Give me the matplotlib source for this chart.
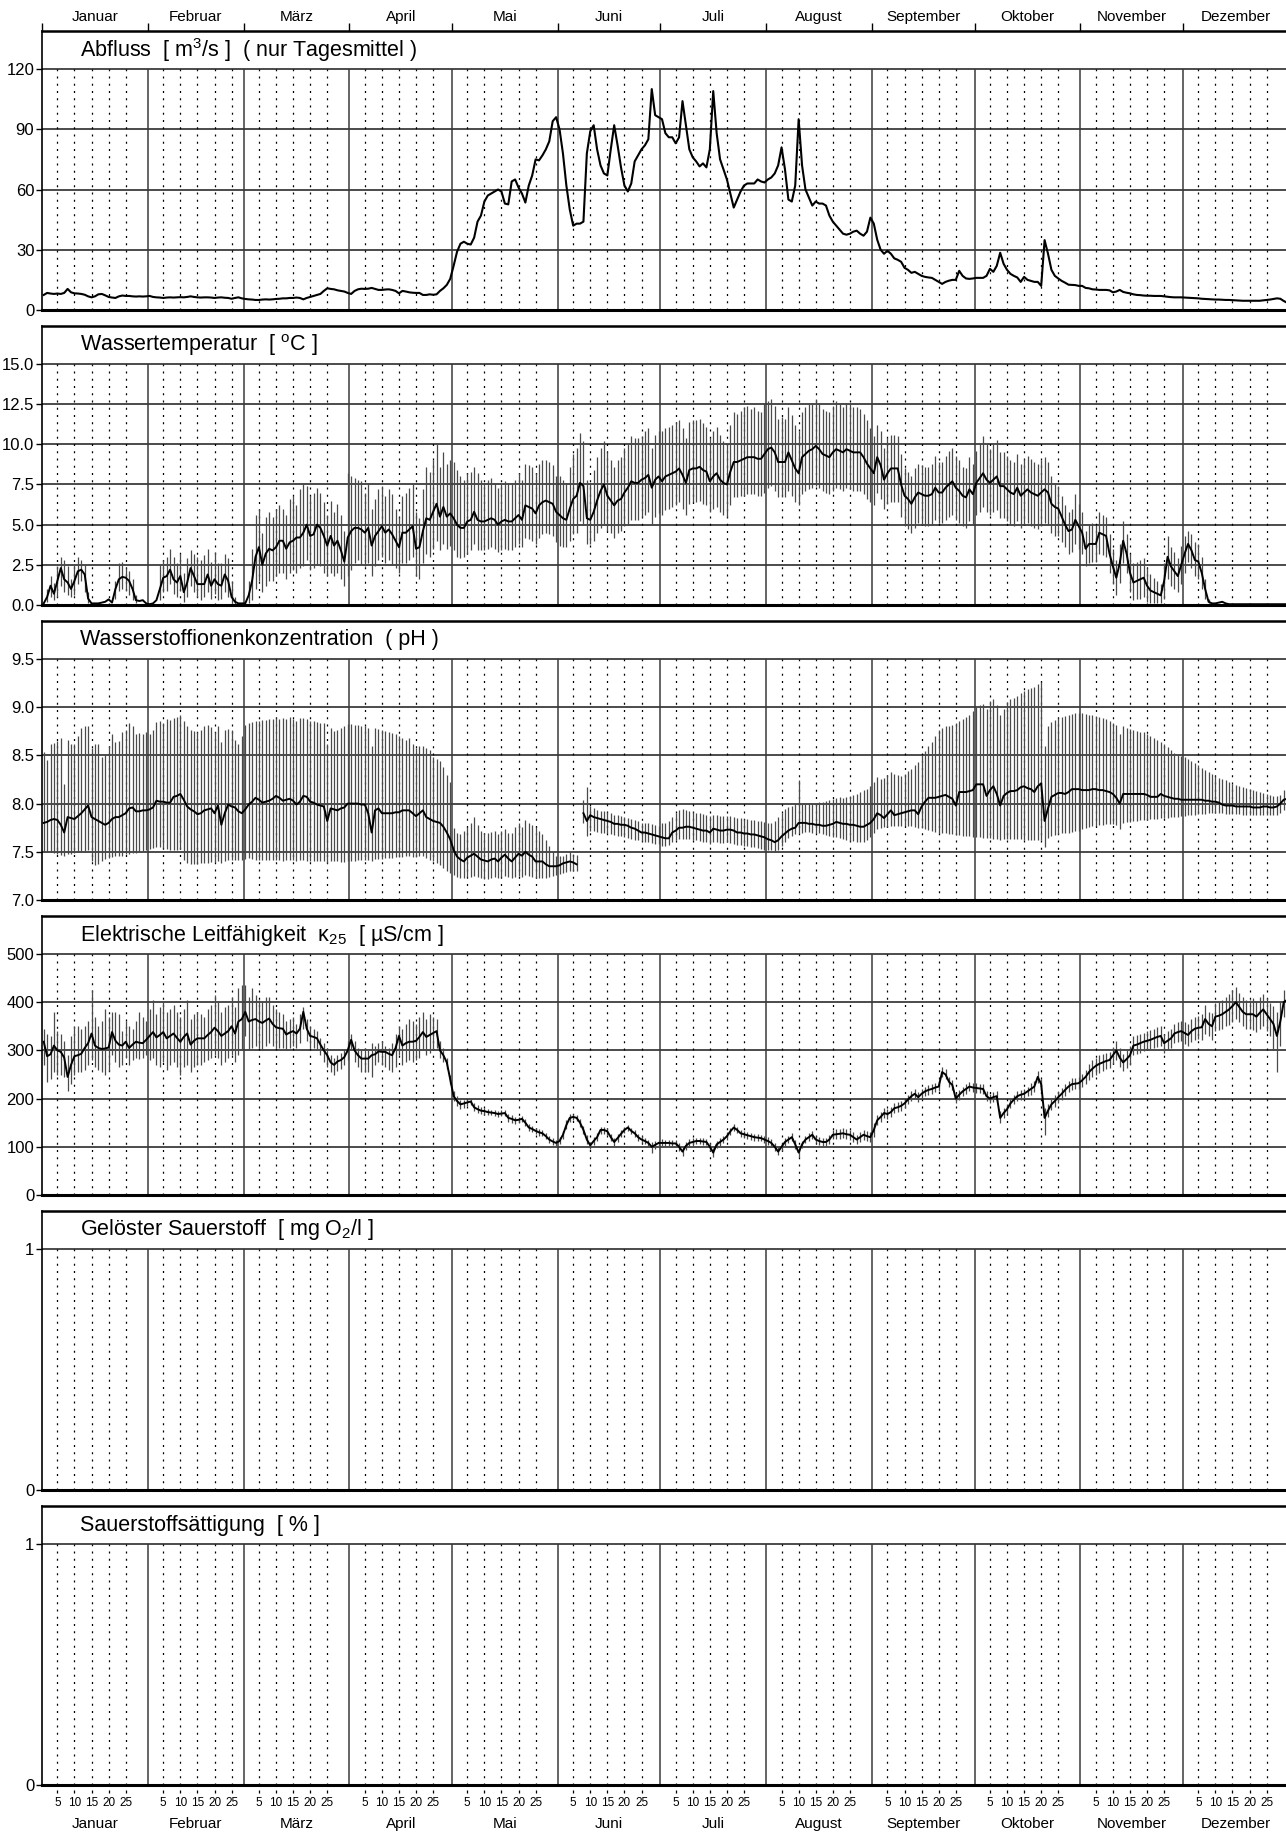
import numpy as np
import matplotlib
matplotlib.use('Agg')
import matplotlib.pyplot as plt
from matplotlib import transforms

nan = float('nan')

# ---------------- data ----------------
month_names = ['Januar', 'Februar', 'März', 'April', 'Mai', 'Juni', 'Juli',
               'August', 'September', 'Oktober', 'November', 'Dezember']
month_days = [31, 28, 31, 30, 31, 30, 31, 31, 30, 31, 30, 31]
day_ticks = [5, 10, 15, 20, 25]

# Abfluss, daily mean [m3/s]
abfluss = [
    7.5, 8.5, 8.2, 8.0, 8.2, 8.0, 8.5, 10.5, 8.8, 8.3, 8.2, 8.0, 7.6, 6.8, 6.3, 6.8, 7.8, 8.0, 7.3, 6.5, 6.2, 6.0, 6.8, 7.2, 7.0, 7.0, 6.8, 6.7, 6.8, 6.7, 6.8,
    7.0, 6.5, 6.3, 6.2, 6.0, 6.2, 6.3, 6.2, 6.3, 6.4, 6.3, 6.5, 6.8, 6.5, 6.3, 6.2, 6.3, 6.3, 6.2, 6.0, 6.2, 6.3, 6.1, 6.0, 5.6, 6.0, 6.3, 5.8,
    5.5, 5.3, 5.2, 5.0, 5.0, 5.2, 5.3, 5.2, 5.3, 5.5, 5.6, 5.8, 5.8, 6.0, 6.0, 6.2, 6.0, 5.3, 6.0, 6.5, 7.0, 7.5, 8.0, 9.5, 10.8, 10.5, 10.3, 9.8, 9.5, 9.2, 8.5,
    8.0, 9.5, 10.3, 10.6, 10.5, 10.6, 11.0, 10.5, 10.0, 10.0, 10.2, 10.3, 10.0, 9.5, 8.3, 9.5, 9.2, 8.8, 8.6, 8.5, 8.5, 7.5, 7.5, 7.8, 7.6, 7.8, 9.5, 10.8, 12.5, 15.5,
    22, 29, 33, 34, 33, 32.6, 36, 44, 47, 54, 57, 58, 59, 60, 59, 53, 52.6, 64, 65, 61, 58, 53.5, 62, 67, 75, 74.5, 77, 80, 84, 94, 96,
    90, 78, 62, 50, 42, 43, 43, 44, 78, 89, 92, 80, 72, 68, 67, 80, 92, 82, 71, 62, 59, 63, 74, 77, 80, 82, 85, 110, 97, 96,
    95, 88, 86, 86, 83, 86, 104, 92, 80, 76, 74, 71.5, 73, 71, 80, 109, 88, 75, 70, 65, 58, 51, 55, 59, 62, 63, 63, 63, 65, 64, 63.5,
    65, 66, 68, 72, 81, 70, 55, 54, 62, 95, 72, 60, 56, 52, 54, 53, 53, 52, 47, 44, 42, 40, 38, 37.5, 38, 39, 39.5, 38, 37, 39, 46,
    43, 35, 30, 28, 29.5, 28, 25.7, 25, 24, 21, 20, 18.5, 19, 18, 17, 16.5, 16.2, 16, 15, 14, 13, 14, 14.6, 15, 15, 19.5, 17, 15.7, 15.5, 15.7,
    16, 16, 16, 17, 20.5, 19, 22, 28.5, 23, 20, 18, 17, 16.2, 14, 16.5, 15, 14.5, 14, 14, 12, 34.8, 28, 20, 17, 15.7, 14.5, 13.6, 12.6, 12.5, 12.4, 12,
    12, 11, 10.8, 10.3, 10.2, 10, 10, 10, 9.8, 8.8, 9.2, 10, 9, 8.6, 8.3, 7.8, 7.5, 7.4, 7.2, 7.1, 7.1, 7.0, 7.0, 7.0, 6.8, 6.6, 6.4, 6.3, 6.3, 6.3,
    6.2, 6.1, 6.0, 5.9, 5.8, 5.6, 5.5, 5.4, 5.3, 5.2, 5.2, 5.1, 5.0, 5.0, 4.9, 4.8, 4.7, 4.6, 4.6, 4.6, 4.6, 4.6, 4.6, 4.8, 5.0, 5.2, 5.5, 5.8, 5.6, 4.5, 3.6,
]

# Wassertemperatur [degC]: daily mean, min, max
temp_mean = [
    0.1, 0.5, 1.2, 0.7, 1.5, 2.3, 1.6, 1.4, 1.0, 1.5, 2.1, 2.2, 1.9, 0.4, 0.1, 0.1, 0.1, 0.15, 0.2, 0.35, 0.15, 1.0, 1.6, 1.75, 1.7, 1.5, 1.0, 0.3, 0.25, 0.3, 0.1,
    0.05, 0.1, 0.3, 1.0, 1.7, 1.8, 2.2, 1.6, 1.4, 1.8, 0.8, 1.4, 2.3, 1.8, 1.3, 1.3, 1.3, 1.9, 1.2, 1.6, 1.3, 1.2, 1.9, 1.5, 0.5, 0.2, 0.1, 0.1,
    0.1, 0.6, 1.5, 3.0, 3.6, 2.5, 3.2, 3.5, 3.4, 3.6, 4.0, 4.0, 3.5, 3.9, 4.0, 4.2, 4.2, 4.5, 5.0, 4.3, 4.4, 5.0, 4.8, 4.3, 3.7, 4.3, 3.7, 4.0, 3.4, 2.7, 4.2,
    4.6, 4.8, 4.8, 4.7, 4.5, 4.8, 3.7, 4.3, 4.6, 4.9, 4.5, 4.7, 4.4, 4.0, 3.6, 4.5, 4.5, 4.7, 4.9, 3.5, 3.6, 4.6, 5.4, 5.3, 5.8, 6.3, 5.5, 6.1, 5.5, 5.7,
    5.4, 5.0, 4.8, 4.8, 5.2, 5.3, 5.8, 5.3, 5.2, 5.2, 5.3, 5.4, 5.3, 5.0, 5.2, 5.3, 5.2, 5.2, 5.4, 5.6, 5.3, 6.2, 6.1, 6.0, 5.7, 6.2, 6.4, 6.5, 6.4, 6.3, 5.8,
    5.6, 5.4, 5.3, 6.0, 6.6, 6.8, 7.6, 7.4, 5.4, 5.3, 5.8, 6.5, 7.1, 7.5, 6.8, 6.5, 6.2, 6.5, 6.6, 7.0, 7.3, 7.7, 7.6, 7.6, 7.8, 7.9, 8.1, 7.3, 7.8, 8.0,
    7.7, 8.0, 8.1, 8.2, 8.3, 8.5, 8.1, 7.6, 8.4, 8.5, 8.5, 8.6, 8.4, 8.3, 7.7, 8.0, 8.2, 7.8, 7.6, 7.5, 8.3, 8.9, 8.9, 9.0, 9.1, 9.2, 9.2, 9.2, 9.1, 9.1, 9.4,
    9.7, 9.8, 9.5, 8.9, 8.9, 8.9, 9.5, 9.0, 8.5, 8.2, 9.2, 9.4, 9.6, 9.7, 9.9, 9.7, 9.4, 9.3, 9.2, 9.5, 9.7, 9.6, 9.5, 9.7, 9.6, 9.5, 9.5, 9.5, 9.2, 8.8, 8.5,
    8.2, 9.2, 8.7, 7.8, 8.2, 8.5, 8.5, 8.5, 7.5, 6.8, 6.6, 6.3, 6.7, 7.0, 6.9, 6.8, 6.8, 6.9, 7.3, 7.0, 7.0, 7.3, 7.5, 7.7, 7.3, 7.1, 6.8, 6.7, 7.2, 6.9,
    7.6, 7.9, 8.2, 7.8, 7.6, 7.8, 8.0, 7.4, 7.4, 7.2, 7.0, 6.9, 7.3, 6.8, 7.0, 7.2, 7.0, 6.9, 6.8, 7.0, 7.2, 7.0, 6.3, 6.1, 6.0, 5.5, 5.0, 4.6, 4.7, 5.3, 4.9,
    4.5, 3.5, 3.8, 3.8, 3.8, 4.5, 4.4, 4.3, 3.2, 2.4, 1.7, 2.6, 4.0, 3.2, 2.0, 1.4, 1.5, 1.6, 1.7, 1.2, 0.9, 0.8, 0.7, 0.6, 1.5, 3.0, 2.4, 2.1, 1.8, 2.5,
    3.2, 3.8, 3.4, 2.8, 2.7, 2.0, 1.0, 0.2, 0.1, 0.1, 0.15, 0.2, 0.1, 0.05, 0.05, 0.05, 0.05, 0.05, 0.05, 0.05, 0.05, 0.05, 0.05, 0.05, 0.05, 0.05, 0.05, 0.05, 0.05, 0.05, 0.05,
]
temp_min = [
    nan, 0.2, 0.5, 0.3, 0.5, 1.2, 0.8, 0.6, 0.5, 0.6, 1.3, 1.5, 0.8, 0.1, nan, nan, nan, nan, nan, nan, nan, 0.4, 0.9, 1.0, 0.9, 0.6, 0.3, 0.1, nan, nan, nan,
    nan, nan, nan, 0.3, 0.8, 0.9, 1.3, 0.7, 0.5, 0.9, 0.2, 0.5, 1.2, 0.8, 0.5, 0.3, 0.5, 0.8, 0.4, 0.7, 0.3, 0.4, 0.8, 0.5, 0.1, 0.05, nan, nan,
    nan, 0.1, 0.3, 1.0, 1.5, 0.8, 1.2, 1.5, 1.5, 1.8, 2.0, 2.0, 1.6, 2.0, 2.2, 2.0, 2.3, 2.4, 2.8, 2.2, 2.3, 2.5, 2.4, 2.0, 1.8, 2.0, 1.8, 2.0, 1.6, 1.2, 1.8,
    2.2, 2.6, 2.8, 2.5, 2.4, 2.6, 1.8, 2.4, 2.8, 3.0, 2.6, 2.8, 2.5, 2.3, 2.0, 2.6, 2.6, 2.8, 3.0, 1.8, 1.6, 2.6, 3.2, 3.0, 3.5, 4.0, 3.4, 3.8, 3.5, 3.7,
    3.4, 3.0, 2.9, 3.0, 3.2, 3.4, 3.8, 3.4, 3.4, 3.4, 3.5, 3.6, 3.5, 3.3, 3.4, 3.5, 3.4, 3.4, 3.6, 3.8, 3.6, 4.2, 4.1, 4.0, 3.8, 4.2, 4.4, 4.5, 4.4, 4.3, 3.9,
    3.7, 3.6, 3.6, 4.0, 4.4, 4.5, 5.2, 5.0, 3.8, 3.8, 4.0, 4.5, 4.8, 5.0, 4.6, 4.5, 4.2, 4.5, 4.6, 4.9, 5.0, 5.3, 5.3, 5.3, 5.5, 5.6, 5.8, 5.0, 5.5, 5.7,
    5.6, 5.9, 6.0, 6.1, 6.2, 6.4, 6.0, 5.6, 6.3, 6.4, 6.4, 6.5, 6.3, 6.2, 5.8, 6.0, 6.1, 5.8, 5.6, 5.5, 6.2, 6.7, 6.7, 6.8, 6.8, 6.9, 6.9, 6.9, 6.8, 6.8, 7.0,
    7.3, 7.4, 7.1, 6.7, 6.7, 6.7, 7.1, 6.8, 6.4, 6.2, 6.9, 7.1, 7.2, 7.3, 7.4, 7.3, 7.1, 7.0, 6.9, 7.1, 7.3, 7.2, 7.1, 7.3, 7.2, 7.1, 7.1, 7.1, 6.9, 6.6, 6.4,
    6.2, 7.0, 6.6, 6.0, 6.3, 6.4, 6.4, 6.4, 5.5, 4.9, 4.7, 4.5, 4.8, 5.1, 5.0, 4.9, 4.9, 5.0, 5.3, 5.1, 5.1, 5.3, 5.5, 5.6, 5.3, 5.1, 4.9, 4.8, 5.2, 5.0,
    5.6, 5.8, 6.1, 5.8, 5.6, 5.8, 5.9, 5.4, 5.4, 5.2, 5.0, 4.9, 5.2, 4.8, 5.0, 5.1, 4.9, 4.8, 4.7, 4.9, 5.1, 5.0, 4.5, 4.3, 4.3, 3.9, 3.6, 3.2, 3.3, 3.8, 3.5,
    3.2, 2.4, 2.6, 2.7, 2.7, 3.2, 3.1, 3.0, 2.0, 1.3, 0.6, 1.4, 2.6, 2.0, 0.8, 0.3, 0.4, 0.4, 0.5, 0.2, 0.1, 0.1, 0.1, 0.1, 0.4, 1.6, 1.2, 1.0, 0.8, 1.3,
    2.0, 2.7, 2.3, 1.8, 1.6, 1.0, 0.4, 0.1,
] + [nan] * 23
temp_max = [
    nan, 1.0, 1.8, 1.4, 2.4, 3.0, 2.8, 2.4, 1.6, 2.5, 3.0, 2.8, 2.5, 0.8, nan, nan, nan, nan, nan, nan, nan, 1.5, 2.6, 2.7, 2.3, 2.1, 1.6, 0.6, nan, nan, nan,
    nan, nan, nan, 2.5, 2.8, 3.0, 3.5, 3.0, 2.6, 3.2, 2.0, 2.9, 3.4, 3.2, 3.0, 2.8, 3.1, 3.5, 2.7, 3.3, 2.6, 2.6, 3.2, 2.9, 1.5, 0.5, nan, nan,
    nan, 1.5, 3.5, 5.6, 6.0, 4.5, 5.5, 5.8, 5.5, 6.0, 6.2, 6.0, 5.6, 6.6, 6.8, 6.2, 7.2, 7.5, 7.4, 6.8, 7.0, 7.3, 7.0, 6.4, 5.6, 6.5, 5.8, 6.3, 5.6, 4.6, 8.2,
    8.0, 7.9, 7.8, 7.7, 7.0, 7.6, 6.0, 6.6, 7.2, 7.4, 6.8, 7.2, 6.9, 6.0, 5.5, 6.8, 7.0, 7.3, 7.6, 5.8, 5.4, 7.2, 8.6, 8.3, 9.0, 10.1, 8.6, 9.5, 8.8, 9.0,
    8.9, 8.4, 8.0, 7.8, 8.2, 8.3, 8.6, 8.2, 7.8, 7.6, 7.8, 7.9, 7.6, 7.3, 7.5, 7.7, 7.6, 7.6, 7.8, 8.2, 7.8, 8.8, 8.7, 8.6, 8.2, 8.8, 9.0, 9.0, 8.9, 8.7, 8.0,
    8.0, 7.8, 7.6, 8.6, 9.4, 9.8, 10.7, 10.2, 7.8, 7.6, 8.4, 9.2, 9.8, 10.2, 9.5, 9.0, 8.6, 9.0, 9.2, 9.8, 10.1, 10.5, 10.4, 10.4, 10.5, 10.8, 11.0, 9.8, 10.6, 10.8,
    10.8, 11.0, 11.1, 11.2, 11.4, 11.5, 11.0, 10.4, 11.4, 11.5, 11.5, 11.6, 11.3, 11.1, 10.4, 10.8, 11.1, 10.6, 10.2, 10.1, 11.2, 12.0, 11.9, 12.1, 12.3, 12.4, 12.2, 12.3, 12.1, 12.0, 12.5,
    12.7, 12.8, 12.4, 11.6, 11.7, 11.6, 12.3, 11.8, 11.2, 10.8, 12.0, 12.3, 12.5, 12.6, 12.8, 12.6, 12.2, 12.1, 12.0, 12.4, 12.7, 12.5, 12.3, 12.6, 12.5, 12.3, 12.3, 12.2, 11.9, 11.5, 11.0,
    10.5, 11.2, 10.8, 9.8, 10.4, 10.6, 10.6, 10.5, 9.4, 8.5, 8.3, 8.0, 8.5, 8.8, 8.7, 8.6, 8.6, 8.8, 9.3, 8.9, 8.9, 9.3, 9.6, 9.8, 9.3, 9.0, 8.6, 8.5, 9.2, 8.8,
    9.6, 10.0, 10.5, 10.0, 9.7, 10.0, 10.3, 9.5, 9.5, 9.3, 9.0, 8.9, 9.4, 8.8, 9.1, 9.3, 9.1, 8.9, 8.8, 9.0, 9.2, 8.9, 8.0, 7.6, 7.4, 6.8, 6.2, 5.8, 6.0, 6.9, 6.3,
    5.8, 4.6, 5.0, 5.1, 5.0, 5.8, 5.6, 5.5, 4.4, 3.5, 2.8, 3.8, 5.2, 4.4, 3.2, 2.6, 2.7, 2.8, 2.9, 2.3, 1.9, 1.7, 1.5, 1.3, 2.6, 4.3, 3.6, 3.3, 2.9, 3.7,
    4.3, 4.6, 4.4, 3.9, 3.8, 3.0, 1.6, 0.4,
] + [nan] * 23

# Wasserstoffionenkonzentration (pH): daily mean, min, max
ph_mean = [
    7.80, 7.81, 7.83, 7.84, 7.83, 7.78, 7.70, 7.86, 7.85, 7.84, 7.87, 7.90, 7.94, 7.98, 7.86, 7.84, 7.82, 7.80, 7.78, 7.80, 7.84, 7.86, 7.86, 7.88, 7.90, 7.95, 7.96, 7.92, 7.92, 7.93, 7.93,
    7.94, 7.96, 8.03, 8.02, 8.02, 8.01, 8.01, 8.07, 8.08, 8.10, 8.04, 7.97, 7.94, 7.92, 7.89, 7.90, 7.93, 7.94, 7.95, 7.90, 7.98, 7.78, 7.90, 7.99, 7.97, 7.96, 7.92, 7.90,
    7.94, 7.99, 8.02, 8.06, 8.04, 8.01, 8.02, 8.03, 8.05, 8.08, 8.06, 8.03, 8.04, 8.05, 8.03, 7.99, 8.02, 8.08, 8.07, 8.02, 8.01, 7.99, 7.98, 7.97, 7.82, 7.95, 7.94, 7.93, 7.95, 7.96, 8.00,
    8.00, 8.00, 8.00, 7.99, 7.99, 7.90, 7.70, 7.93, 7.95, 7.90, 7.90, 7.90, 7.90, 7.91, 7.91, 7.93, 7.93, 7.93, 7.90, 7.87, 7.90, 7.93, 7.86, 7.84, 7.82, 7.81, 7.80, 7.76, 7.70, 7.63,
    7.52, 7.45, 7.42, 7.40, 7.44, 7.46, 7.48, 7.45, 7.42, 7.41, 7.40, 7.42, 7.43, 7.40, 7.44, 7.47, 7.43, 7.40, 7.44, 7.48, 7.46, 7.50, 7.47, 7.45, 7.40, 7.40, 7.40, 7.37, 7.35, 7.35, 7.35,
    7.36, 7.38, 7.39, 7.40, 7.39, 7.37, nan, 7.90, 7.82, 7.88, 7.86, 7.85, 7.84, 7.83, 7.82, 7.81, 7.79, 7.79, 7.78, 7.78, 7.77, 7.75, 7.74, 7.72, 7.70, 7.70, 7.69, 7.68, 7.67, 7.66,
    7.65, 7.64, 7.64, 7.70, 7.72, 7.75, 7.75, 7.76, 7.76, 7.75, 7.74, 7.73, 7.72, 7.72, 7.70, 7.74, 7.73, 7.72, 7.72, 7.73, 7.73, 7.72, 7.70, 7.70, 7.69, 7.69, 7.68, 7.68, 7.67, 7.66, 7.65,
    7.63, 7.62, 7.60, 7.62, 7.66, 7.69, 7.72, 7.74, 7.75, 7.80, 7.80, 7.80, 7.79, 7.79, 7.78, 7.78, 7.77, 7.77, 7.78, 7.79, 7.81, 7.80, 7.79, 7.79, 7.78, 7.78, 7.77, 7.76, 7.76, 7.78, 7.80,
    7.84, 7.90, 7.88, 7.85, 7.89, 7.93, 7.88, 7.89, 7.90, 7.91, 7.92, 7.93, 7.93, 7.89, 7.97, 8.02, 8.06, 8.06, 8.06, 8.07, 8.08, 8.09, 8.07, 8.05, 7.98, 8.12, 8.12, 8.12, 8.13, 8.14,
    8.20, 8.20, 8.20, 8.08, 8.14, 8.18, 8.10, 7.98, 8.08, 8.11, 8.13, 8.13, 8.14, 8.17, 8.18, 8.16, 8.15, 8.12, 8.18, 8.21, 7.82, 7.95, 8.07, 8.09, 8.11, 8.11, 8.10, 8.12, 8.15, 8.15, 8.15,
    8.14, 8.14, 8.14, 8.15, 8.15, 8.14, 8.14, 8.13, 8.12, 8.10, 8.06, 8.00, 8.10, 8.10, 8.10, 8.10, 8.10, 8.10, 8.10, 8.09, 8.07, 8.07, 8.07, 8.10, 8.08, 8.07, 8.06, 8.05, 8.05, 8.04,
    8.04, 8.04, 8.04, 8.04, 8.04, 8.04, 8.03, 8.03, 8.02, 8.02, 8.01, 7.99, 7.98, 7.98, 7.98, 7.97, 7.97, 7.97, 7.97, 7.97, 7.96, 7.96, 7.96, 7.97, 7.97, 7.96, 7.96, 7.97, 8.00, 8.04, 8.05,
]
ph_max = [
    8.54, 8.45, 8.62, 8.63, 8.65, 8.68, 8.20, 8.66, 8.62, 8.62, 8.70, 8.78, 8.81, 8.80, 8.58, 8.62, 8.62, 8.48, 8.50, 8.60, 8.72, 8.64, 8.65, 8.74, 8.76, 8.84, 8.80, 8.72, 8.73, 8.72, 8.74,
    8.72, 8.76, 8.85, 8.86, 8.84, 8.88, 8.87, 8.89, 8.90, 8.92, 8.86, 8.80, 8.76, 8.75, 8.74, 8.76, 8.80, 8.82, 8.79, 8.74, 8.80, 8.64, 8.76, 8.77, 8.76, 8.66, 8.62, 8.70,
    8.82, 8.84, 8.85, 8.86, 8.86, 8.87, 8.87, 8.88, 8.88, 8.89, 8.88, 8.89, 8.88, 8.90, 8.88, 8.86, 8.89, 8.89, 8.88, 8.86, 8.86, 8.85, 8.84, 8.84, 8.62, 8.78, 8.75, 8.76, 8.78, 8.80, 8.83,
    8.83, 8.82, 8.82, 8.81, 8.80, 8.78, 8.60, 8.78, 8.77, 8.76, 8.75, 8.74, 8.73, 8.72, 8.70, 8.68, 8.66, 8.68, 8.62, 8.58, 8.60, 8.60, 8.58, 8.56, 8.48, 8.46, 8.44, 8.38, 8.30, 8.22,
    7.75, 7.70, 7.68, 7.72, 7.76, 7.80, 7.86, 7.78, 7.72, 7.70, 7.70, 7.71, 7.72, 7.68, 7.72, 7.74, 7.70, 7.70, 7.76, 7.80, 7.76, 7.83, 7.80, 7.78, 7.76, 7.72, 7.68, 7.62, 7.56, 7.50, 7.46,
    7.46, 7.46, 7.48, 7.50, 7.48, 7.47, nan, 8.04, 8.17, 7.98, 7.95, 7.93, 7.92, 7.92, 7.91, 7.90, 7.88, 7.88, 7.87, 7.86, 7.85, 7.84, 7.83, 7.82, 7.80, 7.80, 7.80, 7.79, 7.78, 7.77,
    7.80, 7.80, 7.82, 7.86, 7.90, 7.93, 7.94, 7.93, 7.92, 7.91, 7.90, 7.90, 7.89, 7.88, 7.87, 7.88, 7.88, 7.87, 7.87, 7.87, 7.87, 7.86, 7.85, 7.85, 7.84, 7.84, 7.83, 7.83, 7.82, 7.82, 7.81,
    7.80, 7.80, 7.82, 7.86, 7.90, 7.94, 7.96, 7.98, 8.00, 8.25, 8.00, 8.00, 8.00, 8.00, 8.01, 8.02, 8.02, 8.03, 8.04, 8.05, 8.06, 8.07, 8.06, 8.07, 8.08, 8.09, 8.10, 8.12, 8.14, 8.15, 8.18,
    8.22, 8.28, 8.26, 8.27, 8.30, 8.33, 8.31, 8.30, 8.29, 8.31, 8.34, 8.36, 8.40, 8.43, 8.50, 8.55, 8.60, 8.64, 8.70, 8.76, 8.78, 8.80, 8.81, 8.82, 8.84, 8.86, 8.88, 8.90, 8.92, 8.96,
    9.00, 9.02, 9.03, 8.98, 9.06, 9.09, 9.02, 8.92, 8.98, 9.05, 9.08, 9.10, 9.12, 9.15, 9.17, 9.19, 9.20, 9.21, 9.24, 9.26, 8.60, 8.80, 8.85, 8.87, 8.89, 8.90, 8.91, 8.92, 8.93, 8.94, 8.94,
    8.94, 8.93, 8.92, 8.92, 8.91, 8.90, 8.89, 8.88, 8.86, 8.84, 8.82, 8.72, 8.80, 8.78, 8.77, 8.76, 8.75, 8.74, 8.74, 8.72, 8.70, 8.68, 8.66, 8.64, 8.62, 8.59, 8.56, 8.53, 8.51, 8.49,
    8.48, 8.46, 8.44, 8.42, 8.40, 8.37, 8.35, 8.33, 8.31, 8.29, 8.27, 8.26, 8.24, 8.22, 8.20, 8.19, 8.18, 8.17, 8.16, 8.15, 8.14, 8.13, 8.12, 8.11, 8.10, 8.09, 8.08, 8.08, 8.09, 8.14, 8.16,
]
ph_min = [
    7.50, 7.50, 7.50, 7.49, 7.48, 7.47, 7.46, 7.48, 7.48, 7.49, 7.50, 7.50, 7.51, 7.52, 7.40, 7.36, 7.37, 7.40, 7.43, 7.44, 7.45, 7.46, 7.46, 7.46, 7.48, 7.48, 7.49, 7.49, 7.50, 7.51, 7.52,
    7.53, 7.54, 7.55, 7.55, 7.54, 7.53, 7.52, 7.52, 7.52, 7.53, 7.42, 7.38, 7.37, 7.37, 7.37, 7.38, 7.38, 7.38, 7.39, 7.39, 7.40, 7.38, 7.40, 7.41, 7.41, 7.41, 7.42, 7.42,
    7.43, 7.44, 7.43, 7.42, 7.42, 7.41, 7.41, 7.42, 7.42, 7.42, 7.41, 7.40, 7.41, 7.41, 7.41, 7.40, 7.41, 7.41, 7.40, 7.40, 7.40, 7.40, 7.40, 7.40, 7.38, 7.40, 7.40, 7.40, 7.39, 7.39, 7.40,
    7.40, 7.40, 7.41, 7.41, 7.42, 7.42, 7.40, 7.43, 7.43, 7.43, 7.44, 7.44, 7.44, 7.45, 7.45, 7.45, 7.46, 7.46, 7.45, 7.45, 7.46, 7.46, 7.44, 7.42, 7.40, 7.38, 7.36, 7.33, 7.30, 7.28,
    7.26, 7.24, 7.23, 7.23, 7.24, 7.24, 7.25, 7.24, 7.23, 7.22, 7.22, 7.23, 7.24, 7.23, 7.24, 7.25, 7.24, 7.23, 7.24, 7.25, 7.24, 7.26, 7.25, 7.24, 7.23, 7.23, 7.23, 7.23, 7.24, 7.25, 7.26,
    7.27, 7.28, 7.29, 7.30, 7.30, 7.30, nan, 7.80, 7.66, 7.72, 7.72, 7.71, 7.70, 7.70, 7.69, 7.68, 7.67, 7.66, 7.66, 7.65, 7.64, 7.63, 7.62, 7.62, 7.61, 7.60, 7.60, 7.59, 7.58, 7.58,
    7.56, 7.56, 7.57, 7.60, 7.62, 7.63, 7.63, 7.63, 7.63, 7.62, 7.62, 7.61, 7.60, 7.60, 7.58, 7.60, 7.60, 7.59, 7.59, 7.60, 7.59, 7.58, 7.57, 7.57, 7.56, 7.56, 7.55, 7.55, 7.54, 7.53, 7.52,
    7.52, 7.52, 7.50, 7.52, 7.56, 7.60, 7.64, 7.66, 7.68, 7.70, 7.70, 7.71, 7.71, 7.70, 7.70, 7.69, 7.68, 7.67, 7.66, 7.65, 7.65, 7.64, 7.63, 7.62, 7.61, 7.61, 7.60, 7.60, 7.60, 7.62, 7.65,
    7.70, 7.74, 7.75, 7.76, 7.76, 7.77, 7.77, 7.77, 7.77, 7.77, 7.77, 7.77, 7.76, 7.75, 7.75, 7.74, 7.73, 7.72, 7.71, 7.70, 7.70, 7.69, 7.68, 7.68, 7.67, 7.67, 7.66, 7.66, 7.66, 7.65,
    7.65, 7.65, 7.64, 7.64, 7.64, 7.63, 7.63, 7.62, 7.63, 7.63, 7.63, 7.63, 7.63, 7.63, 7.62, 7.62, 7.62, 7.62, 7.62, 7.62, 7.55, 7.64, 7.66, 7.67, 7.68, 7.69, 7.70, 7.70, 7.71, 7.72, 7.72,
    7.74, 7.75, 7.76, 7.77, 7.77, 7.78, 7.78, 7.79, 7.79, 7.79, 7.78, 7.74, 7.80, 7.81, 7.81, 7.82, 7.82, 7.83, 7.83, 7.83, 7.84, 7.84, 7.84, 7.85, 7.85, 7.85, 7.86, 7.86, 7.86, 7.87,
    7.87, 7.88, 7.88, 7.88, 7.89, 7.89, 7.89, 7.90, 7.90, 7.90, 7.90, 7.90, 7.89, 7.89, 7.89, 7.89, 7.89, 7.88, 7.88, 7.88, 7.88, 7.88, 7.88, 7.88, 7.88, 7.88, 7.88, 7.88, 7.90, 7.93, 7.95,
]

# Elektrische Leitfaehigkeit kappa25 [uS/cm]: daily mean, min, max
cond_mean = [
    318, 288, 292, 310, 300, 297, 285, 245, 270, 288, 290, 293, 305, 315, 335, 310, 305, 303, 304, 306, 338, 320, 312, 310, 318, 305, 312, 318, 316, 315, 322,
    330, 338, 327, 332, 338, 325, 330, 335, 326, 318, 328, 335, 312, 320, 325, 325, 325, 332, 338, 347, 340, 330, 335, 340, 350, 335, 360, 365,
    380, 360, 363, 365, 360, 357, 362, 366, 355, 348, 346, 345, 333, 337, 340, 335, 345, 380, 345, 330, 328, 325, 312, 300, 290, 275, 270, 277, 280, 286, 300,
    322, 300, 290, 283, 283, 283, 290, 292, 298, 297, 297, 293, 290, 305, 330, 310, 315, 318, 318, 320, 328, 338, 328, 332, 336, 340, 300, 290, 275, 240,
    205, 195, 188, 190, 192, 194, 182, 178, 175, 174, 172, 171, 170, 168, 169, 170, 160, 158, 155, 156, 158, 150, 140, 137, 133, 130, 128, 122, 115, 111, 108,
    112, 125, 145, 160, 162, 160, 150, 135, 115, 103, 112, 120, 135, 135, 132, 120, 110, 118, 127, 135, 140, 133, 128, 120, 115, 112, 108, 100, 104, 108,
    108, 108, 108, 107, 107, 100, 90, 102, 108, 110, 112, 112, 111, 110, 100, 88, 105, 110, 115, 122, 132, 140, 135, 128, 126, 124, 122, 120, 119, 118, 115,
    112, 108, 100, 90, 100, 110, 115, 120, 105, 88, 105, 115, 120, 125, 115, 112, 110, 110, 115, 125, 126, 127, 128, 126, 125, 120, 115, 120, 125, 122, 120,
    135, 155, 162, 170, 168, 172, 180, 182, 185, 190, 198, 205, 210, 203, 210, 215, 218, 220, 223, 225, 255, 250, 235, 228, 200, 208, 215, 220, 225, 223,
    222, 221, 220, 205, 200, 203, 205, 160, 170, 178, 190, 198, 205, 208, 210, 215, 220, 225, 245, 230, 160, 175, 188, 195, 203, 210, 218, 225, 230, 231, 232,
    238, 245, 255, 262, 268, 272, 275, 278, 280, 290, 300, 285, 275, 282, 290, 310, 312, 315, 318, 320, 322, 325, 328, 330, 315, 320, 325, 335, 338, 340,
    336, 332, 340, 345, 347, 348, 365, 355, 350, 370, 372, 375, 380, 385, 392, 400, 390, 380, 375, 375, 375, 370, 378, 385, 375, 365, 355, 330, 360, 400, 405,
]
cond_max = [
    345, 335, 330, 380, 340, 335, 320, 290, 330, 350, 350, 345, 350, 360, 425, 370, 350, 360, 385, 370, 380, 380, 375, 340, 360, 350, 345, 360, 380, 370, 360,
    385, 405, 375, 390, 400, 380, 385, 395, 380, 370, 385, 405, 365, 375, 380, 375, 370, 385, 395, 415, 400, 380, 390, 395, 410, 390, 430, 435,
    435, 410, 430, 415, 405, 400, 410, 410, 395, 385, 380, 375, 360, 365, 370, 355, 375, 390, 365, 350, 345, 340, 325, 315, 305, 290, 285, 290, 295, 300, 320,
    335, 320, 305, 300, 305, 300, 315, 310, 315, 320, 310, 305, 315, 335, 350, 345, 355, 365, 360, 355, 370, 380, 365, 375, 370, 365, 320, 305, 285, 250,
    215, 205, 198, 198, 200, 200, 190, 186, 182, 180, 178, 177, 176, 174, 176, 176, 168, 165, 162, 162, 164, 158, 148, 144, 140, 137, 134, 128, 122, 118, 114,
    120, 133, 155, 168, 168, 166, 158, 143, 124, 110, 120, 128, 142, 142, 138, 127, 118, 126, 134, 142, 146, 140, 135, 127, 122, 119, 115, 110, 112, 115,
    116, 115, 115, 114, 114, 108, 100, 110, 116, 118, 119, 119, 118, 117, 108, 98, 113, 118, 123, 130, 140, 148, 142, 135, 133, 131, 129, 127, 126, 125, 122,
    120, 116, 108, 100, 108, 118, 123, 128, 115, 98, 113, 123, 128, 133, 123, 120, 118, 118, 124, 134, 136, 137, 138, 136, 135, 130, 124, 130, 135, 132, 130,
    150, 165, 172, 180, 178, 182, 190, 192, 195, 200, 208, 215, 220, 213, 220, 225, 228, 230, 233, 237, 265, 262, 245, 238, 212, 218, 225, 230, 235, 233,
    232, 231, 230, 215, 210, 213, 215, 175, 180, 188, 200, 208, 215, 218, 220, 225, 232, 237, 258, 240, 180, 188, 200, 207, 215, 222, 230, 237, 242, 243, 244,
    252, 260, 272, 280, 285, 290, 292, 294, 296, 308, 320, 305, 292, 300, 310, 330, 332, 335, 337, 340, 342, 345, 348, 350, 335, 340, 345, 355, 358, 360,
    358, 355, 365, 370, 372, 375, 395, 380, 378, 398, 402, 405, 410, 418, 425, 432, 420, 410, 405, 405, 408, 402, 410, 418, 408, 398, 392, 380, 400, 425, 430,
]
cond_min = [
    270, 235, 240, 255, 250, 250, 245, 215, 230, 250, 255, 255, 260, 270, 280, 265, 260, 255, 250, 258, 290, 275, 265, 270, 285, 270, 280, 285, 282, 285, 290,
    280, 285, 270, 265, 275, 260, 270, 275, 265, 250, 265, 270, 255, 265, 270, 270, 275, 280, 285, 290, 285, 270, 275, 285, 290, 275, 290, 300,
    330, 300, 305, 310, 305, 300, 310, 315, 310, 305, 305, 305, 300, 305, 310, 305, 315, 345, 320, 305, 305, 300, 290, 275, 265, 255, 250, 258, 262, 270, 280,
    300, 275, 265, 255, 255, 255, 245, 270, 275, 270, 265, 260, 255, 265, 290, 270, 275, 280, 275, 280, 285, 300, 290, 295, 300, 305, 285, 275, 262, 230,
    195, 185, 178, 180, 184, 186, 174, 170, 168, 167, 166, 165, 164, 162, 163, 164, 152, 150, 148, 150, 152, 143, 132, 130, 126, 123, 122, 116, 108, 104, 102,
    105, 117, 137, 152, 155, 153, 142, 127, 106, 95, 104, 112, 127, 127, 125, 112, 102, 110, 120, 128, 133, 126, 121, 113, 108, 105, 100, 88, 96, 101,
    100, 101, 101, 100, 100, 92, 80, 94, 100, 102, 105, 105, 104, 103, 92, 78, 97, 102, 107, 114, 124, 132, 128, 121, 119, 117, 115, 113, 112, 111, 108,
    104, 100, 92, 82, 92, 102, 107, 112, 95, 78, 97, 107, 112, 117, 107, 104, 102, 102, 106, 116, 116, 117, 118, 116, 115, 110, 106, 110, 115, 112, 110,
    120, 145, 152, 160, 158, 162, 170, 172, 175, 180, 188, 195, 200, 193, 200, 205, 208, 210, 213, 215, 245, 240, 225, 218, 190, 198, 205, 210, 215, 213,
    212, 211, 210, 195, 190, 193, 195, 150, 160, 168, 180, 188, 195, 198, 200, 205, 208, 213, 232, 218, 125, 162, 176, 183, 191, 198, 206, 213, 218, 219, 220,
    224, 230, 238, 244, 250, 254, 258, 262, 264, 272, 280, 265, 258, 264, 270, 290, 292, 295, 298, 300, 302, 305, 308, 310, 295, 300, 305, 315, 318, 320,
    314, 310, 318, 322, 324, 322, 335, 330, 322, 340, 342, 345, 350, 352, 358, 365, 358, 350, 345, 345, 342, 338, 345, 350, 340, 330, 300, 255, 310, 370, 380,
]

panel_titles = [
    r'Abfluss  [ m$^{3}$/s ]  ( nur Tagesmittel )',
    r'Wassertemperatur  [ $^{\mathrm{o}}$C ]',
    r'Wasserstoffionenkonzentration  ( pH )',
    r'Elektrische Leitfähigkeit  κ$_{25}$  [ µS/cm ]',
    r'Gelöster Sauerstoff  [ mg O$_{2}$/l ]',
    r'Sauerstoffsättigung  [ % ]',
]
panel_yticks = [
    [0, 30, 60, 90, 120],
    [0.0, 2.5, 5.0, 7.5, 10.0, 12.5, 15.0],
    [7.0, 7.5, 8.0, 8.5, 9.0, 9.5],
    [0, 100, 200, 300, 400, 500],
    [0, 1],
    [0, 1],
]
panel_ytick_fmt = ['{:.0f}', '{:.1f}', '{:.1f}', '{:.0f}', '{:.0f}', '{:.0f}']

# ---------------- figure ----------------
plt.rcParams['font.family'] = ['Liberation Sans', 'DejaVu Sans']
plt.rcParams['mathtext.fontset'] = 'custom'
plt.rcParams['mathtext.rm'] = 'Liberation Sans'
plt.rcParams['mathtext.it'] = 'Liberation Sans:italic'
plt.rcParams['mathtext.bf'] = 'Liberation Sans:bold'
plt.rcParams['mathtext.sf'] = 'Liberation Sans'

W, H = 1286, 1834
fig = plt.figure(figsize=(W / 100, H / 100), dpi=100)

month_start = np.concatenate([[0], np.cumsum(month_days)])
x_left_px = 42
px_per_day = 3.416
xmax = (W - x_left_px) / px_per_day

panel_bottom_px = [310, 605, 900, 1195, 1490, 1785]
panel_h_px = 279
data_h_px = 241

dot_x = np.array([month_start[m] + d - 0.5 for m in range(12) for d in day_ticks])

axes = []
for k in range(6):
    yb = panel_bottom_px[k]
    ax = fig.add_axes([x_left_px / W, 1 - yb / H, (W - x_left_px) / W, panel_h_px / H])
    axes.append(ax)
    ticks = panel_yticks[k]
    ymin, ymax = ticks[0], ticks[-1]
    ytop = ymin + (ymax - ymin) * panel_h_px / data_h_px
    ax.set_xlim(0, xmax)
    ax.set_ylim(ymin, ytop)

    # grid
    ax.hlines(ticks[1:], 0, xmax, colors='#1a1a1a', lw=1.1, zorder=1)
    ax.vlines(month_start[1:12], ymin, ymax, colors='#3a3a3a', lw=1.1, zorder=1)
    ax.vlines(dot_x, ymin, ymax, colors='black', lw=0.9,
              linestyles=[(0, (1.6, 4.2))], zorder=1)

    # spines / ticks
    ax.spines['right'].set_visible(False)
    ax.spines['top'].set_linewidth(1.8)
    ax.spines['left'].set_linewidth(1.2)
    ax.spines['bottom'].set_linewidth(2.2)
    ax.set_xticks([])
    ax.set_yticks(ticks)
    ax.set_yticklabels([panel_ytick_fmt[k].format(t) for t in ticks])
    ax.tick_params(axis='y', direction='out', length=4, width=1.0,
                   labelsize=12, pad=1.5)

    # title band text
    band_center = 1 - (panel_h_px - data_h_px) / 2 / panel_h_px
    ax.text((80 - x_left_px) / (W - x_left_px), band_center, panel_titles[k],
            transform=ax.transAxes, ha='left', va='center', fontsize=15.5)

# ---- data series ----
xd = lambda arr: np.arange(len(arr)) + 0.5

axes[0].plot(xd(abfluss), abfluss, color='black', lw=1.5, zorder=3)

axes[1].vlines(xd(temp_min), temp_min, temp_max[:len(temp_min)], colors='#4a4a4a', lw=0.9, zorder=2)
axes[1].plot(xd(temp_mean), temp_mean, color='black', lw=1.4, zorder=3)

axes[2].vlines(xd(ph_min), ph_min, ph_max[:len(ph_min)], colors='#4a4a4a', lw=0.9, zorder=2)
axes[2].plot(xd(ph_mean), ph_mean, color='black', lw=1.4, zorder=3)

axes[3].vlines(xd(cond_min), cond_min, cond_max[:len(cond_min)], colors='#4a4a4a', lw=0.9, zorder=2)
axes[3].plot(xd(cond_mean), cond_mean, color='black', lw=1.4, zorder=3)

# ---- month labels on top ----
ax0 = axes[0]
tr0 = transforms.blended_transform_factory(ax0.transData, ax0.transAxes)
month_mid = (month_start[:-1] + month_start[1:]) / 2
for m in range(12):
    ax0.text(month_mid[m], 1 + 14 / panel_h_px, month_names[m], transform=tr0,
             ha='center', va='center', fontsize=11, clip_on=False)
ax0.vlines(month_start[:12], 1.0, 1 + 8.5 / panel_h_px, transform=tr0,
           colors='black', lw=1.0, clip_on=False)

# ---- day and month labels at bottom ----
axl = axes[-1]
trl = transforms.blended_transform_factory(axl.transData, axl.transAxes)
axl.vlines(dot_x, -5 / panel_h_px, -8 / panel_h_px, transform=trl,
           colors='black', lw=0.9, clip_on=False)
for m in range(12):
    for d in day_ticks:
        axl.text(month_start[m] + d - 0.5, -18 / panel_h_px, str(d), transform=trl,
                 ha='center', va='center', fontsize=8.5, clip_on=False)
    axl.text(month_mid[m], -39 / panel_h_px, month_names[m], transform=trl,
             ha='center', va='center', fontsize=11, clip_on=False)

fig.savefig('out.png', dpi=100)
